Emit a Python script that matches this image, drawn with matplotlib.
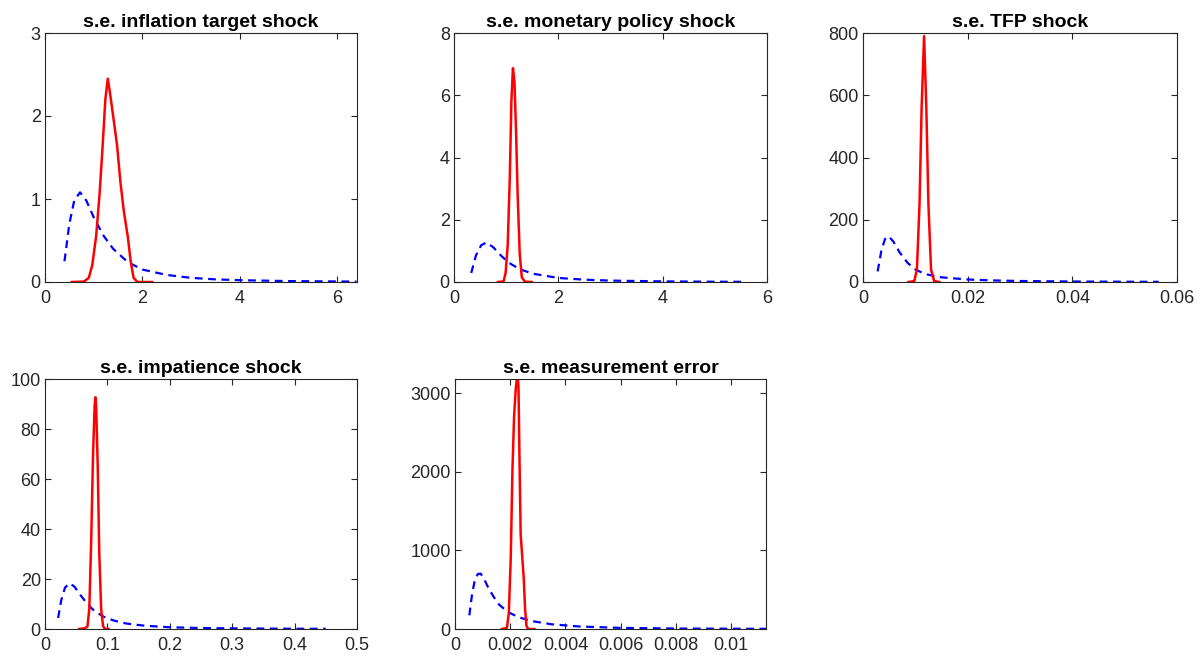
import numpy as np
import matplotlib.pyplot as plt

plt.rcParams['font.family'] = ['Liberation Sans', 'DejaVu Sans']

titles = ['s.e. inflation target shock', 's.e. monetary policy shock', 's.e. TFP shock',
          's.e. impatience shock', 's.e. measurement error']

# prior densities (dashed blue)
prior_x1 = [0.40, 0.50, 0.60, 0.72, 0.85, 1.0, 1.2, 1.4, 1.7, 2.0, 2.5, 3.0, 3.5, 4.0, 5.0, 6.4]
prior_y1 = [0.25, 0.70, 0.98, 1.08, 0.98, 0.78, 0.56, 0.40, 0.24, 0.15, 0.085, 0.05, 0.032, 0.022, 0.011, 0.005]
prior_x2 = [0.33, 0.42, 0.52, 0.62, 0.75, 0.9, 1.05, 1.25, 1.5, 2.0, 2.5, 3.0, 4.0, 5.0, 5.6]
prior_y2 = [0.29, 0.85, 1.18, 1.27, 1.12, 0.85, 0.62, 0.42, 0.27, 0.13, 0.075, 0.045, 0.02, 0.009, 0.006]
prior_x3 = [0.0028, 0.0035, 0.0042, 0.0049, 0.0058, 0.007, 0.0085, 0.010, 0.012, 0.015, 0.020, 0.025, 0.030, 0.040, 0.050, 0.0565]
prior_y3 = [34, 100, 138, 147, 130, 95, 62, 40, 25, 15, 8, 5, 3.2, 1.6, 0.9, 0.6]
prior_x4 = [0.021, 0.026, 0.032, 0.039, 0.047, 0.057, 0.068, 0.08, 0.095, 0.11, 0.13, 0.16, 0.2, 0.25, 0.3, 0.4, 0.45]
prior_y4 = [4.4, 11.5, 16.5, 18.3, 17, 13.5, 10, 7, 4.8, 3.4, 2.2, 1.3, 0.7, 0.4, 0.25, 0.1, 0.08]
prior_x5 = [0.00052, 0.00062, 0.00073, 0.00083, 0.00093, 0.00105, 0.0012, 0.0014, 0.0016, 0.0019,
            0.0023, 0.0028, 0.0035, 0.0045, 0.006, 0.008, 0.0113]
prior_y5 = [174, 450, 640, 700, 705, 640, 530, 410, 310, 220, 150, 100, 60, 32, 14, 6, 2]

# posterior densities (solid red)
post_x1 = [0.55, 0.80, 0.90, 0.97, 1.05, 1.12, 1.18, 1.24, 1.29, 1.33, 1.40, 1.48, 1.55, 1.62, 1.70, 1.76, 1.82, 1.90, 2.20]
post_y1 = [0, 0.005, 0.05, 0.2, 0.55, 1.05, 1.6, 2.2, 2.45, 2.3, 2.0, 1.65, 1.2, 0.85, 0.55, 0.25, 0.05, 0.0, 0]
post_x2 = [0.84, 0.95, 0.99, 1.03, 1.07, 1.10, 1.13, 1.16, 1.19, 1.22, 1.26, 1.30, 1.36, 1.49]
post_y2 = [0, 0.02, 0.3, 1.2, 3.4, 5.8, 6.87, 6.4, 4.8, 2.8, 0.9, 0.15, 0.01, 0]
post_x3 = [0.0087, 0.0098, 0.0103, 0.0108, 0.0112, 0.01167, 0.0121, 0.0125, 0.0130, 0.0136, 0.0146]
post_y3 = [0, 3, 40, 250, 560, 790, 560, 250, 40, 3, 0]
post_x4 = [0.055, 0.064, 0.068, 0.071, 0.074, 0.077, 0.0795, 0.0807, 0.082, 0.0845, 0.087, 0.090, 0.093, 0.096, 0.102]
post_y4 = [0, 0.3, 1.0, 8, 35, 70, 89, 92.7, 89, 65, 30, 8, 1.2, 0, 0]
post_x5 = [0.0017, 0.00188, 0.00195, 0.00202, 0.00208, 0.00214, 0.0022, 0.00226, 0.0023, 0.00234,
           0.00238, 0.00243, 0.00249, 0.00254, 0.00259, 0.00265, 0.00288]
post_y5 = [0, 15, 200, 900, 2000, 2700, 3050, 3250, 3100, 2100, 1200, 950, 650, 250, 40, 0, 0]

xlims = [(0, 6.41), (0, 6), (0, 0.06), (0, 0.5), (0, 0.01127)]
ylims = [(0, 3), (0, 8), (0, 800), (0, 100), (0, 3183)]
xticks = [[0, 2, 4, 6], [0, 2, 4, 6], [0, 0.02, 0.04, 0.06],
          [0, 0.1, 0.2, 0.3, 0.4, 0.5], [0, 0.002, 0.004, 0.006, 0.008, 0.01]]
xticklabels = [['0', '2', '4', '6'], ['0', '2', '4', '6'], ['0', '0.02', '0.04', '0.06'],
               ['0', '0.1', '0.2', '0.3', '0.4', '0.5'], ['0', '0.002', '0.004', '0.006', '0.008', '0.01']]
yticks = [[0, 1, 2, 3], [0, 2, 4, 6, 8], [0, 200, 400, 600, 800],
          [0, 20, 40, 60, 80, 100], [0, 1000, 2000, 3000]]

priors = [(prior_x1, prior_y1), (prior_x2, prior_y2), (prior_x3, prior_y3), (prior_x4, prior_y4), (prior_x5, prior_y5)]
posts = [(post_x1, post_y1), (post_x2, post_y2), (post_x3, post_y3), (post_x4, post_y4), (post_x5, post_y5)]

W, H = 1203, 658
# axes boxes in pixels: left, right, top, bottom
boxes = [(45, 357, 33, 282), (454, 767, 33, 282), (863, 1177, 33, 282),
         (45, 357, 379, 629), (455, 766, 379, 629)]

fig = plt.figure(figsize=(W / 100, H / 100), dpi=100)
axcol = '#262626'

for i in range(5):
    l, r, t, b = boxes[i]
    ax = fig.add_axes([l / W, 1 - b / H, (r - l) / W, (b - t) / H])
    ax.plot(priors[i][0], priors[i][1], '--', color='#0000ff', linewidth=1.6, dashes=(3.5, 2.5))
    ax.plot(posts[i][0], posts[i][1], '-', color='#ff0000', linewidth=1.8)
    ax.set_xlim(*xlims[i])
    ax.set_ylim(*ylims[i])
    ax.set_xticks(xticks[i])
    ax.set_xticklabels(xticklabels[i])
    ax.set_yticks(yticks[i])
    ax.tick_params(direction='in', top=True, right=True, length=4, width=0.8,
                   colors=axcol, labelsize=13)
    ax.tick_params(axis='x', pad=6)
    ax.tick_params(axis='y', pad=3)
    for s in ax.spines.values():
        s.set_color(axcol)
        s.set_linewidth(0.8)
    ax.set_title(titles[i], fontsize=14, fontweight='bold', pad=4)

fig.savefig('out.png', dpi=100)
